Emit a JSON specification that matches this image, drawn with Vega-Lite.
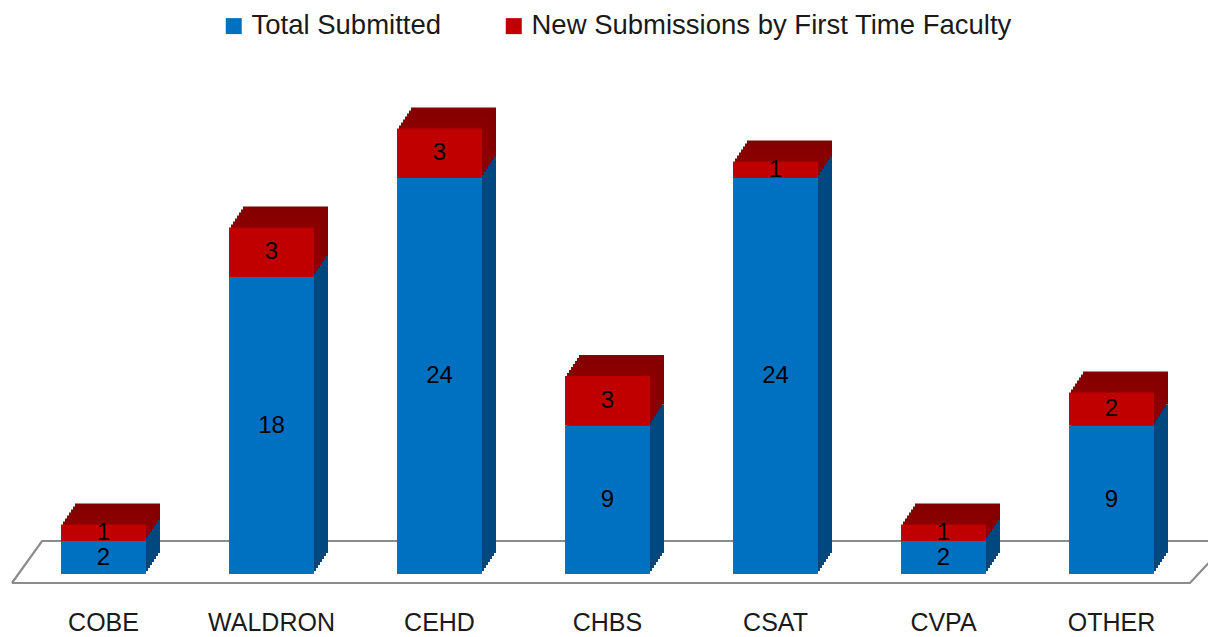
{
  "$schema": "https://vega.github.io/schema/vega-lite/v6.json",
  "autosize": "none",
  "width": 1176,
  "height": 495,
  "padding": {"left": 19.5, "top": 79, "right": 12.5, "bottom": 63},
  "background": "white",
  "config": {"view": {"stroke": null}, "font": "Liberation Sans"},
  "resolve": {"scale": {"x": "independent"}, "axis": {"x": "independent"}},
  "layer": [
    {
      "data": {"values": [
        {"corner": 1, "pos": -0.045, "level": -0.545},
        {"corner": 2, "pos": 0.134, "level": 2.0},
        {"corner": 3, "pos": 7.2, "level": 2.0},
        {"corner": 4, "pos": 6.967, "level": -0.545},
        {"corner": 5, "pos": -0.045, "level": -0.545}
      ]},
      "mark": {"type": "line", "color": "#8C8C8C", "strokeWidth": 2.2, "clip": false},
      "encoding": {
        "x": {"field": "pos", "type": "quantitative", "scale": {"domain": [0, 7], "nice": false, "zero": false}, "axis": null},
        "y": {"field": "level", "type": "quantitative", "scale": {"domain": [0, 30], "nice": false}, "axis": null},
        "order": {"field": "corner", "type": "quantitative"}
      }
    },
    {
      "data": {"values": [
        {"college": "COBE", "series": "Total Submitted", "value": 2},
        {"college": "COBE", "series": "New Submissions by First Time Faculty", "value": 1},
        {"college": "WALDRON", "series": "Total Submitted", "value": 18},
        {"college": "WALDRON", "series": "New Submissions by First Time Faculty", "value": 3},
        {"college": "CEHD", "series": "Total Submitted", "value": 24},
        {"college": "CEHD", "series": "New Submissions by First Time Faculty", "value": 3},
        {"college": "CHBS", "series": "Total Submitted", "value": 9},
        {"college": "CHBS", "series": "New Submissions by First Time Faculty", "value": 3},
        {"college": "CSAT", "series": "Total Submitted", "value": 24},
        {"college": "CSAT", "series": "New Submissions by First Time Faculty", "value": 1},
        {"college": "CVPA", "series": "Total Submitted", "value": 2},
        {"college": "CVPA", "series": "New Submissions by First Time Faculty", "value": 1},
        {"college": "OTHER", "series": "Total Submitted", "value": 9},
        {"college": "OTHER", "series": "New Submissions by First Time Faculty", "value": 2}
      ]},
      "encoding": {
        "x": {"field": "college", "type": "nominal",
              "scale": {"domain": ["COBE", "WALDRON", "CEHD", "CHBS", "CSAT", "CVPA", "OTHER"], "paddingInner": 0.494, "paddingOuter": 0.247},
              "axis": {"title": null, "domain": false, "ticks": false, "tickSize": 0, "grid": false, "labelAngle": 0,
                       "labelFont": "Liberation Sans", "labelFontSize": 25, "labelColor": "#1a1a1a",
                       "labelPadding": 48, "labelBaseline": "middle"}},
        "y": {"field": "value", "type": "quantitative", "stack": "zero", "scale": {"domain": [0, 30], "nice": false}, "axis": null},
        "order": {"field": "series", "sort": "descending"}
      },
      "layer": [
        {"mark": {"type": "bar", "xOffset": 14, "yOffset": -21, "y2Offset": -21},
         "encoding": {"fill": {"condition": {"test": "datum.series === 'Total Submitted'", "value": "#00487F"}, "value": "#820000"}}},
        {"mark": {"type": "bar", "xOffset": 12, "yOffset": -18, "y2Offset": -18},
         "encoding": {"fill": {"condition": {"test": "datum.series === 'Total Submitted'", "value": "#00487F"}, "value": "#850000"}}},
        {"mark": {"type": "bar", "xOffset": 10, "yOffset": -15, "y2Offset": -15},
         "encoding": {"fill": {"condition": {"test": "datum.series === 'Total Submitted'", "value": "#00487F"}, "value": "#870000"}}},
        {"mark": {"type": "bar", "xOffset": 8, "yOffset": -12, "y2Offset": -12},
         "encoding": {"fill": {"condition": {"test": "datum.series === 'Total Submitted'", "value": "#00487F"}, "value": "#880000"}}},
        {"mark": {"type": "bar", "xOffset": 6, "yOffset": -9, "y2Offset": -9},
         "encoding": {"fill": {"condition": {"test": "datum.series === 'Total Submitted'", "value": "#00487F"}, "value": "#890000"}}},
        {"mark": {"type": "bar", "xOffset": 4, "yOffset": -6, "y2Offset": -6},
         "encoding": {"fill": {"condition": {"test": "datum.series === 'Total Submitted'", "value": "#00487F"}, "value": "#8A0000"}}},
        {"mark": {"type": "bar", "xOffset": 2, "yOffset": -3, "y2Offset": -3},
         "encoding": {"fill": {"condition": {"test": "datum.series === 'Total Submitted'", "value": "#00487F"}, "value": "#8B0000"}}},
        {"mark": {"type": "bar"},
         "encoding": {"color": {"field": "series", "type": "nominal",
            "scale": {"domain": ["Total Submitted", "New Submissions by First Time Faculty"], "range": ["#0070C0", "#C00000"]},
            "legend": {"title": null, "orient": "none", "direction": "horizontal", "legendX": 200.5, "legendY": -67,
                       "symbolType": "square", "symbolSize": 256, "symbolStrokeWidth": 0, "symbolOpacity": 1,
                       "labelFont": "Liberation Sans", "labelFontSize": 27.5, "labelColor": "#1a1a1a", "labelOffset": 4,
                       "columnPadding": 58, "padding": 0, "labelLimit": 800}}}},
        {"mark": {"type": "text", "font": "Liberation Sans", "fontSize": 24, "color": "#000000", "baseline": "middle"},
         "encoding": {"y": {"field": "value", "type": "quantitative", "stack": "zero", "bandPosition": 0.5, "scale": {"domain": [0, 30], "nice": false}, "axis": null},
                      "text": {"field": "value", "type": "quantitative"}}}
      ]
    }
  ]
}
